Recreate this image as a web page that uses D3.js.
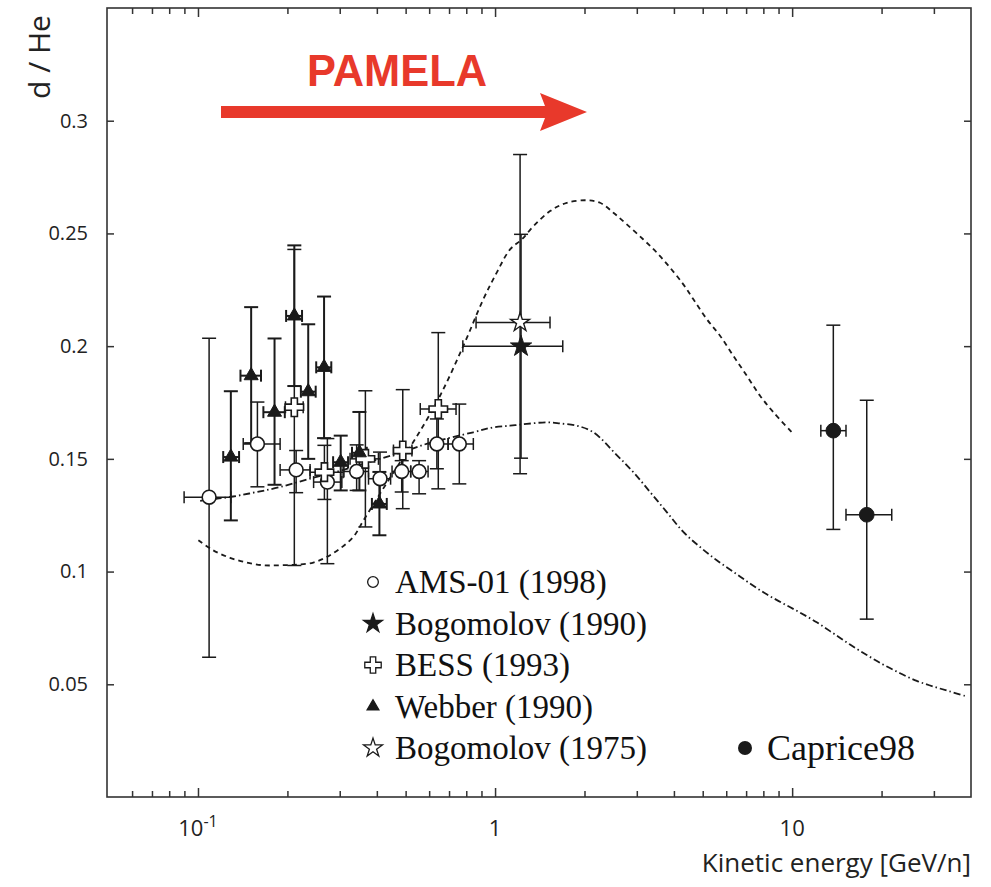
<!DOCTYPE html>
<html>
<head>
<meta charset="utf-8">
<script src="https://cdn.jsdelivr.net/npm/d3@7"></script>
<style>
  body { margin: 0; background: #fff; }
  svg { display: block; }
  .axis line { stroke: #333; stroke-width: 1.5; }
  .axis text { font-family: "Open Sans", sans-serif; font-size: 20px; fill: #222; }
  .legend text { font-family: "Liberation Serif", "Times New Roman", serif; font-size: 33px; fill: #111; }
</style>
</head>
<body>
<script>
// rows: [energy, ratio, energy lo, energy hi, ratio lo, ratio hi]
var ams01 = [
  [0.109, 0.133, 0.0898, 0.129, 0.062, 0.2035],
  [0.1585, 0.1566, 0.142, 0.189, 0.1376, 0.1752],
  [0.214, 0.1451, 0.189, 0.2384, 0.135, 0.1537],
  [0.2726, 0.1397, 0.245, 0.305, 0.1035, 0.159],
  [0.342, 0.1444, 0.31, 0.375, 0.136, 0.1562],
  [0.41, 0.1412, 0.375, 0.445, 0.1288, 0.153],
  [0.485, 0.1444, 0.45, 0.52, 0.1353, 0.1492],
  [0.555, 0.1444, 0.52, 0.595, 0.1345, 0.1492],
  [0.637, 0.1566, 0.595, 0.695, 0.1456, 0.1677],
  [0.758, 0.1566, 0.695, 0.845, 0.1389, 0.1743]
];
var bogomolov1990 = [
  [1.223, 0.1999, 0.779, 1.69, 0.1503, 0.2496]
];
var bess = [
  [0.211, 0.1729, 0.197, 0.226, 0.1027, 0.2429],
  [0.2664, 0.1441, 0.2384, 0.3079, 0.132, 0.156],
  [0.366, 0.15, 0.325, 0.405, 0.1198, 0.1802],
  [0.489, 0.1537, 0.455, 0.525, 0.1279, 0.1807],
  [0.644, 0.1721, 0.56, 0.739, 0.1367, 0.206]
];
var webber = [
  [0.129, 0.1508, 0.1216, 0.1375, 0.1227, 0.18],
  [0.151, 0.1869, 0.139, 0.163, 0.157, 0.2173],
  [0.181, 0.1707, 0.166, 0.196, 0.1385, 0.2034],
  [0.211, 0.2134, 0.198, 0.224, 0.1823, 0.2447],
  [0.235, 0.1798, 0.222, 0.249, 0.15, 0.2097],
  [0.2657, 0.1906, 0.25, 0.281, 0.1592, 0.222],
  [0.3023, 0.1485, 0.285, 0.32, 0.136, 0.1603],
  [0.3494, 0.1527, 0.33, 0.37, 0.136, 0.1708],
  [0.408, 0.13, 0.385, 0.432, 0.1161, 0.1442]
];
var bogomolov1975 = [
  [1.214, 0.2105, 0.863, 1.531, 0.1434, 0.285]
];
var caprice98 = [
  [13.76, 0.1625, 12.49, 15.18, 0.1187, 0.2093],
  [17.83, 0.1252, 15.18, 21.64, 0.0789, 0.176]
];

// model curves: [energy, ratio]
var modelUpper = [
  [0.1003, 0.1139], [0.1126, 0.1094], [0.1282, 0.1061], [0.146, 0.104],
  [0.166, 0.1028], [0.189, 0.1028], [0.215, 0.1031], [0.2445, 0.104],
  [0.2714, 0.1065], [0.3008, 0.1102], [0.3335, 0.1154], [0.3602, 0.1226],
  [0.4263, 0.1381], [0.479, 0.1485], [0.552, 0.1611], [0.653, 0.178],
  [0.782, 0.2001], [0.913, 0.2208], [1.013, 0.2326], [1.123, 0.2429],
  [1.23, 0.2473], [1.346, 0.2532], [1.531, 0.2599], [1.743, 0.2636],
  [2.035, 0.2647], [2.256, 0.2636], [2.502, 0.2592], [2.776, 0.254],
  [3.157, 0.2473], [3.502, 0.2415], [3.882, 0.2348], [4.302, 0.2274],
  [4.651, 0.2208], [5.159, 0.212], [5.719, 0.2046], [6.341, 0.1957],
  [7.034, 0.1869], [7.797, 0.178], [8.644, 0.1707], [9.97, 0.1618]
];
var modelLower = [
  [0.1017, 0.1314], [0.1312, 0.1333], [0.1577, 0.1353], [0.189, 0.1375],
  [0.2384, 0.1412], [0.3008, 0.1447], [0.3795, 0.1487], [0.479, 0.1527],
  [0.6043, 0.1571], [0.845, 0.1618], [0.987, 0.164], [1.123, 0.1647],
  [1.279, 0.1655], [1.493, 0.1662], [1.655, 0.1657], [1.884, 0.1647],
  [2.142, 0.1618], [2.568, 0.1517], [2.921, 0.1441],
  [3.324, 0.1353], [3.784, 0.1264], [4.302, 0.1176], [4.898, 0.1109],
  [5.574, 0.105], [6.341, 0.0999], [7.216, 0.0947], [8.213, 0.0899],
  [9.342, 0.0858], [10.63, 0.0818], [12.1, 0.0775], [13.76, 0.0726],
  [15.66, 0.0676], [17.83, 0.063], [20.28, 0.0587], [23.08, 0.0549],
  [26.27, 0.0515], [29.88, 0.049], [34.01, 0.0468], [38.7, 0.0446]
];

var yTicks = [0.05, 0.1, 0.15, 0.2, 0.25, 0.3];
var xMajor = [0.1, 1, 10];
var xMinor = [0.06, 0.07, 0.08, 0.09, 0.2, 0.3, 0.4, 0.5, 0.6, 0.7, 0.8, 0.9,
              2, 3, 4, 5, 6, 7, 8, 9, 20, 30];
var legendNames = ["AMS-01 (1998)", "Bogomolov (1990)", "BESS (1993)", "Webber (1990)", "Bogomolov (1975)"];

var width = 991, height = 887;
var margin = {left: 107, right: 20, top: 8, bottom: 90};

var x = d3.scaleLog()
    .domain([0.0494, 40])
    .range([margin.left, width - margin.right]);
var y = d3.scaleLinear()
    .domain([0, 0.35])
    .range([height - margin.bottom, margin.top]);

var svg = d3.select("body").append("svg")
    .attr("width", width).attr("height", height);

var ink = "#1a1a1a";
var red = "#e8392b";

// axes (ticks pointing inwards on all four sides)
function noDomain(g) { g.select(".domain").remove(); }

svg.append("g").attr("class", "axis")
    .attr("transform", "translate(0," + y(0) + ")")
    .call(d3.axisBottom(x).tickValues(xMinor).tickSize(-6).tickFormat(""))
    .call(noDomain);
svg.append("g").attr("class", "axis")
    .attr("transform", "translate(0," + y(0) + ")")
    .call(d3.axisBottom(x).tickValues(xMajor).tickSize(-9).tickFormat(""))
    .call(noDomain);
svg.append("g").attr("class", "axis")
    .attr("transform", "translate(0," + y(0.35) + ")")
    .call(d3.axisTop(x).tickValues(xMinor).tickSize(-6).tickFormat(""))
    .call(noDomain);
svg.append("g").attr("class", "axis")
    .attr("transform", "translate(0," + y(0.35) + ")")
    .call(d3.axisTop(x).tickValues(xMajor).tickSize(-9).tickFormat(""))
    .call(noDomain);
svg.append("g").attr("class", "axis")
    .attr("transform", "translate(" + x(0.0494) + ",0)")
    .call(d3.axisLeft(y).tickValues(yTicks).tickSize(-7).tickPadding(19)
      .tickFormat(function(d){ return String(d); }))
    .call(noDomain);
svg.append("g").attr("class", "axis")
    .attr("transform", "translate(" + x(40) + ",0)")
    .call(d3.axisRight(y).tickValues(yTicks).tickSize(-7).tickFormat(""))
    .call(noDomain);

// frame
svg.append("rect")
    .attr("x", x(0.0494)).attr("y", y(0.35))
    .attr("width", x(40) - x(0.0494)).attr("height", y(0) - y(0.35))
    .attr("fill", "none").attr("stroke", "#333").attr("stroke-width", 1.6);

// x tick labels
var xl = svg.append("g").attr("font-family", "Open Sans, sans-serif").attr("fill", "#222");
xMajor.forEach(function(v){
  var t = xl.append("text").attr("x", x(v)).attr("y", 836)
      .attr("text-anchor", "middle").attr("font-size", 22);
  if (v < 1) {
    t.append("tspan").text("10");
    t.append("tspan").attr("dy", -9).attr("font-size", 16).text("-1");
  } else {
    t.text(v);
  }
});

// axis titles
svg.append("text")
    .attr("x", x(40)).attr("y", 872)
    .attr("text-anchor", "end")
    .attr("font-family", "Open Sans, sans-serif").attr("font-size", 26).attr("fill", "#222")
    .text("Kinetic energy [GeV/n]");
svg.append("text")
    .attr("transform", "translate(50,57) rotate(-90)")
    .attr("text-anchor", "middle")
    .attr("font-family", "Open Sans, sans-serif").attr("font-size", 30).attr("fill", "#222")
    .text("d / He");

// model curves
var line = d3.line()
    .x(function(d){ return x(d[0]); })
    .y(function(d){ return y(d[1]); })
    .curve(d3.curveCatmullRom);

svg.append("path").attr("d", line(modelUpper))
    .attr("fill", "none").attr("stroke", ink).attr("stroke-width", 1.8)
    .attr("stroke-dasharray", "5,4");
svg.append("path").attr("d", line(modelLower))
    .attr("fill", "none").attr("stroke", ink).attr("stroke-width", 1.8)
    .attr("stroke-dasharray", "7,3,1.5,3");

// error bars + markers
function errorBars(data, sw) {
  var g = svg.append("g").attr("stroke", ink).attr("stroke-width", sw).attr("fill", "none");
  data.forEach(function(d){
    var cx = x(d[0]), cy = y(d[1]);
    g.append("line").attr("x1", cx).attr("x2", cx).attr("y1", y(d[4])).attr("y2", y(d[5]));
    g.append("line").attr("x1", cx - 7).attr("x2", cx + 7).attr("y1", y(d[4])).attr("y2", y(d[4]));
    g.append("line").attr("x1", cx - 7).attr("x2", cx + 7).attr("y1", y(d[5])).attr("y2", y(d[5]));
    g.append("line").attr("x1", x(d[2])).attr("x2", x(d[3])).attr("y1", cy).attr("y2", cy);
    g.append("line").attr("x1", x(d[2])).attr("x2", x(d[2])).attr("y1", cy - 6).attr("y2", cy + 6);
    g.append("line").attr("x1", x(d[3])).attr("x2", x(d[3])).attr("y1", cy - 6).attr("y2", cy + 6);
  });
}
function markers(data, type, size, fill, sw) {
  svg.append("g").selectAll("path").data(data).enter().append("path")
      .attr("transform", function(d){ return "translate(" + x(d[0]) + "," + y(d[1]) + ")"; })
      .attr("d", d3.symbol().type(type).size(size))
      .attr("fill", fill).attr("stroke", ink).attr("stroke-width", sw);
}

errorBars(ams01, 1.5);
errorBars(bess, 1.5);
errorBars(webber, 2);
errorBars(bogomolov1990, 1.5);
errorBars(bogomolov1975, 1.5);
errorBars(caprice98, 1.5);

markers(ams01, d3.symbolCircle, 150, "#fff", 1.6);
markers(bess, d3.symbolCross, 190, "#fff", 1.6);
markers(webber, d3.symbolTriangle, 85, ink, 1);
markers(bogomolov1975, d3.symbolStar, 110, "#fff", 1.4);
markers(bogomolov1990, d3.symbolStar, 140, ink, 1);
markers(caprice98, d3.symbolCircle, 170, ink, 1);

// legend
var legendTypes = [d3.symbolCircle, d3.symbolStar, d3.symbolCross, d3.symbolTriangle, d3.symbolStar];
var legendFills = ["#fff", ink, "#fff", ink, "#fff"];
var legendSizes = [90, 110, 150, 60, 110];
var lg = svg.append("g").attr("class", "legend");
legendNames.forEach(function(name, i){
  var ly = 582 + i * 41.5;
  lg.append("path")
      .attr("transform", "translate(373," + ly + ")")
      .attr("d", d3.symbol().type(legendTypes[i]).size(legendSizes[i]))
      .attr("fill", legendFills[i]).attr("stroke", ink).attr("stroke-width", 1.3);
  lg.append("text").attr("x", 395).attr("y", ly + 11).text(name);
});
lg.append("circle").attr("cx", 745).attr("cy", 748).attr("r", 7).attr("fill", ink);
lg.append("text").attr("x", 767).attr("y", 760).style("font-size", "36px").text("Caprice98");

// PAMELA arrow
svg.append("text")
    .attr("x", 397).attr("y", 86)
    .attr("text-anchor", "middle")
    .attr("font-family", "Liberation Sans, Arial, sans-serif").attr("font-weight", "bold")
    .attr("font-size", 44).attr("fill", red)
    .attr("textLength", 180).attr("lengthAdjust", "spacingAndGlyphs")
    .text("PAMELA");
svg.append("path")
    .attr("d", "M221,106 L545,106 L540,93 L587,112 L540,131 L545,118 L221,118 Z")
    .attr("fill", red);
</script>
</body>
</html>
